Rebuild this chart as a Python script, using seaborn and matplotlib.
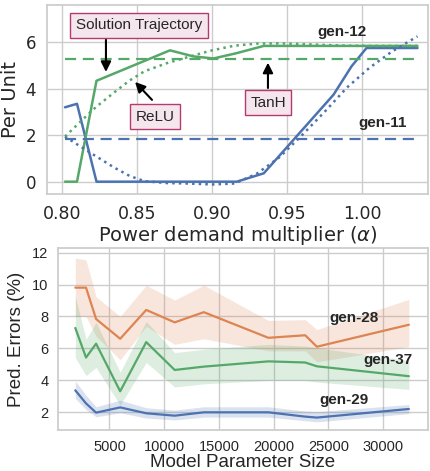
import numpy as np
import pandas as pd
import matplotlib
matplotlib.use("Agg")
import matplotlib.pyplot as plt
import seaborn as sns

# ---- top panel: per-unit trajectories vs power demand multiplier ----
alpha_blue = [0.802, 0.810, 0.823, 0.872, 0.8875, 0.901, 0.9165, 0.9345, 0.981, 0.993, 1.003, 1.037]
gen11_solution = [3.2, 3.35, 0.0, 0.0, 0.0, 0.0, 0.0, 0.36, 3.74, 4.96, 5.75, 5.75]
alpha_green = [0.802, 0.810, 0.823, 0.872, 0.8875, 0.901, 0.9165, 0.9345, 0.981, 0.993, 1.003, 1.037]
gen12_solution = [0.0, 0.0, 4.34, 5.65, 5.39, 5.30, 5.53, 5.84, 5.84, 5.84, 5.84, 5.84]

alpha_dot = [0.802, 0.815, 0.823, 0.835, 0.845, 0.855, 0.87, 0.885, 0.90, 0.915, 0.93, 0.945, 0.96, 0.975, 0.99, 1.005, 1.02, 1.037]
gen11_relu = [1.94, 1.40, 1.08, 0.60, 0.25, 0.02, -0.06, -0.08, -0.12, -0.08, 0.35, 1.05, 2.0, 3.0, 4.05, 4.9, 5.6, 6.25]
gen12_relu = [1.94, 2.75, 3.23, 3.85, 4.35, 4.75, 5.10, 5.38, 5.65, 5.85, 5.94, 5.95, 5.92, 5.88, 5.85, 5.84, 5.84, 5.84]

gen11_tanh = 1.85
gen12_tanh = 5.28

# ---- bottom panel: prediction errors vs model parameter size ----
param_size = [1880, 2860, 3780, 5980, 8360, 10960, 13620, 19520, 22880, 23950, 32350]
err_gen28 = [9.81, 9.81, 7.84, 6.60, 8.41, 7.63, 8.27, 6.66, 6.82, 6.10, 7.48]
err_gen28_hi = [11.67, 11.55, 9.24, 8.0, 9.96, 9.03, 9.96, 7.75, 7.80, 7.18, 9.07]
err_gen28_lo = [8.0, 8.0, 6.76, 5.28, 7.38, 6.25, 6.60, 5.84, 5.84, 5.15, 6.10]
err_gen37 = [7.28, 5.42, 6.29, 3.30, 6.39, 4.64, 4.85, 5.18, 5.11, 4.87, 4.25]
err_gen37_hi = [9.28, 6.56, 7.63, 4.50, 7.69, 5.73, 5.94, 6.25, 6.14, 6.04, 5.22]
err_gen37_lo = [5.42, 4.29, 4.80, 2.43, 5.11, 3.57, 3.77, 3.98, 3.98, 3.88, 3.42]
err_gen29 = [3.36, 2.54, 1.96, 2.29, 1.92, 1.77, 1.98, 1.98, 1.71, 1.65, 2.19]
err_gen29_hi = [3.94, 3.05, 2.33, 2.74, 2.27, 2.12, 2.33, 2.33, 2.06, 2.02, 2.47]
err_gen29_lo = [2.85, 2.15, 1.70, 1.95, 1.62, 1.50, 1.68, 1.68, 1.45, 1.38, 1.90]

sns.set_theme(style="whitegrid")
blue, orange, green = sns.color_palette("deep")[0], sns.color_palette("deep")[1], sns.color_palette("deep")[2]

fig = plt.figure(figsize=(4.3, 4.71), dpi=100)
ax1 = fig.add_axes([47 / 430, 1 - 194 / 471, 381 / 430, 189 / 471])
ax2 = fig.add_axes([58 / 430, 1 - 430 / 471, 370 / 430, 182 / 471])

# top panel
sns.lineplot(x=alpha_blue, y=gen11_solution, ax=ax1, color=blue, lw=1.8)
sns.lineplot(x=alpha_green, y=gen12_solution, ax=ax1, color=green, lw=1.8)
sns.lineplot(x=alpha_dot, y=gen11_relu, ax=ax1, color=blue, lw=1.8, linestyle=":")
sns.lineplot(x=alpha_dot, y=gen12_relu, ax=ax1, color=green, lw=1.8, linestyle=":")
ax1.plot([alpha_dot[0], alpha_dot[-1]], [gen11_tanh, gen11_tanh], color=blue, lw=1.6, ls=(0, (5, 3)))
ax1.plot([alpha_dot[0], alpha_dot[-1]], [gen12_tanh, gen12_tanh], color=green, lw=1.6, ls=(0, (5, 3)))

ax1.set_xlim(0.79, 1.044)
ax1.set_ylim(-0.53, 7.6)
ax1.set_xticks([0.80, 0.85, 0.90, 0.95, 1.00])
ax1.set_yticks([0, 2, 4, 6])
ax1.tick_params(axis="x", labelsize=12.5, pad=2)
ax1.tick_params(axis="y", labelsize=12, pad=2)
ax1.set_xlabel(r"Power demand multiplier ($\alpha$)", fontsize=14, labelpad=1)
ax1.set_ylabel("Per Unit", fontsize=14, labelpad=4)

box = dict(boxstyle="square,pad=0.36", fc="#f4e6ec", ec="#b53a6e", lw=1)
afont = dict(family="Liberation Sans", fontsize=11, ha="center", va="center", bbox=box)
arrow = dict(arrowstyle="-|>,head_width=0.25,head_length=0.5", color="black", lw=1.5,
             shrinkA=0, shrinkB=0)
ax1.text(0.8513, 6.73, "Solution Trajectory", **afont)
ax1.text(0.862, 2.79, "ReLU", **afont)
ax1.text(0.9373, 3.39, "TanH", **afont)
ax1.annotate("", xy=(0.8293, 4.72), xytext=(0.8293, 6.1), arrowprops=arrow)
ax1.annotate("", xy=(0.8487, 4.29), xytext=(0.8600, 3.52), arrowprops=arrow)
ax1.annotate("", xy=(0.9373, 5.12), xytext=(0.9373, 4.03), arrowprops=arrow)
ax1.text(0.987, 6.45, "gen-12", fontsize=11, fontweight="bold", family="Liberation Sans", ha="center", va="center")
ax1.text(1.014, 2.52, "gen-11", fontsize=11, fontweight="bold", family="Liberation Sans", ha="center", va="center")

# bottom panel
for y, lo, hi, c in [(err_gen28, err_gen28_lo, err_gen28_hi, orange),
                     (err_gen37, err_gen37_lo, err_gen37_hi, green),
                     (err_gen29, err_gen29_lo, err_gen29_hi, blue)]:
    ax2.fill_between(param_size, lo, hi, color=c, alpha=0.2, lw=0)
    sns.lineplot(x=param_size, y=y, ax=ax2, color=c, lw=1.6)

ax2.set_xlim(300, 34100)
ax2.set_ylim(0.87, 12.3)
ax2.set_xticks([5000, 10000, 15000, 20000, 25000, 30000])
ax2.set_yticks([2, 4, 6, 8, 10, 12])
for lab in ax2.get_xticklabels() + ax2.get_yticklabels():
    lab.set_family("Liberation Sans")
ax2.tick_params(axis="both", labelsize=10.5, pad=1)
ax2.set_xlabel("Model Parameter Size", fontsize=13.5, family="Liberation Sans", labelpad=0)
ax2.set_ylabel("Pred. Errors (%)", fontsize=13.5, family="Liberation Sans", labelpad=5)
ax2.text(27300, 7.9, "gen-28", fontsize=11, fontweight="bold", family="Liberation Sans", ha="center", va="center")
ax2.text(30400, 5.28, "gen-37", fontsize=11, fontweight="bold", family="Liberation Sans", ha="center", va="center")
ax2.text(26400, 2.74, "gen-29", fontsize=11, fontweight="bold", family="Liberation Sans", ha="center", va="center")

fig.savefig("out.png", dpi=100)
